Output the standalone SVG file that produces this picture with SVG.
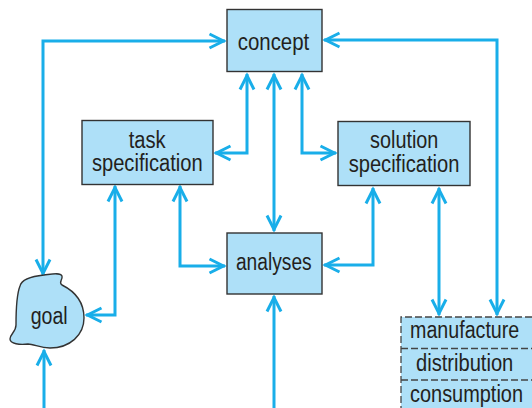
<svg xmlns="http://www.w3.org/2000/svg" width="532" height="408" viewBox="0 0 532 408">
<style>
.box{fill:#aee0f8;stroke:#333;stroke-width:1.4}
.dash{fill:none;stroke:#444;stroke-width:1.3;stroke-dasharray:7 3}
.t{font-family:"Liberation Sans",Arial,sans-serif;font-size:23px;fill:#231f20}
.c{text-anchor:middle}
.con{fill:none;stroke:#19aee9;stroke-width:3}
</style>
<defs>
<marker id="a" markerUnits="userSpaceOnUse" markerWidth="24" markerHeight="24" viewBox="-18 -12 24 24" refX="1.5" refY="0" orient="auto-start-reverse">
<path d="M-14,-7 L0,0 L-14,7" fill="none" stroke="#19aee9" stroke-width="3"/>
</marker>
</defs>
<rect width="532" height="408" fill="#fff"/>
<g id="connectors" class="con">
<path d="M225 41 H43 V275" marker-start="url(#a)" marker-end="url(#a)"/>
<path d="M247 74 V153 H215" marker-start="url(#a)" marker-end="url(#a)"/>
<path d="M302 74 V153 H336" marker-start="url(#a)" marker-end="url(#a)"/>
<path d="M274 74 V231" marker-start="url(#a)" marker-end="url(#a)"/>
<path d="M324 40 H497 V315" marker-start="url(#a)" marker-end="url(#a)"/>
<path d="M373 188 V265 H324" marker-start="url(#a)" marker-end="url(#a)"/>
<path d="M439 188 V315" marker-start="url(#a)" marker-end="url(#a)"/>
<path d="M115 186 V315 H86" marker-start="url(#a)" marker-end="url(#a)"/>
<path d="M180 186 V266 H225" marker-start="url(#a)" marker-end="url(#a)"/>
<path d="M44 410 V350" marker-end="url(#a)"/>
<path d="M274 410 V296" marker-end="url(#a)"/>
</g>
<g id="concept">
<rect class="box" x="227" y="9.5" width="95" height="62"/>
<text class="t c" x="273.5" y="50" textLength="71.6" lengthAdjust="spacingAndGlyphs">concept</text>
</g>
<g id="task">
<rect class="box" x="82" y="120.5" width="131" height="64"/>
<text class="t c" x="147.2" y="148" textLength="37" lengthAdjust="spacingAndGlyphs">task</text>
<text class="t c" x="147.3" y="171" textLength="110.7" lengthAdjust="spacingAndGlyphs">specification</text>
</g>
<g id="solution">
<rect class="box" x="338" y="121.5" width="132" height="64"/>
<text class="t c" x="404.2" y="148" textLength="68.3" lengthAdjust="spacingAndGlyphs">solution</text>
<text class="t c" x="404" y="171.5" textLength="110.7" lengthAdjust="spacingAndGlyphs">specification</text>
</g>
<g id="analyses">
<rect class="box" x="227" y="233" width="95" height="61"/>
<text class="t c" x="273.8" y="270" textLength="75.7" lengthAdjust="spacingAndGlyphs">analyses</text>
</g>
<g id="goal">
<path class="box" d="M20 286 C22 278 34 276 44 275 C52 274 60 272 62 276 C63 280 58 282 62 285 C72 290 84 300 84 318 C84 335 70 348 50 348 C40 348 34 344 28 344 C20 345 10 344 10 339 C10 334 16 332 16 325 C16 312 16 296 20 286 Z"/>
<text class="t c" x="49.2" y="324" textLength="37" lengthAdjust="spacingAndGlyphs">goal</text>
</g>
<g id="stages">
<rect x="401" y="317" width="140" height="100" fill="#aee0f8"/>
<path class="dash" d="M532 317 H401 V408 M401 348.5 H532 M401 380 H532"/>
<text class="t" x="410" y="338" textLength="109.3" lengthAdjust="spacingAndGlyphs">manufacture</text>
<text class="t" x="416" y="371" textLength="97.3" lengthAdjust="spacingAndGlyphs">distribution</text>
<text class="t" x="410" y="402" textLength="113" lengthAdjust="spacingAndGlyphs">consumption</text>
</g>
</svg>
